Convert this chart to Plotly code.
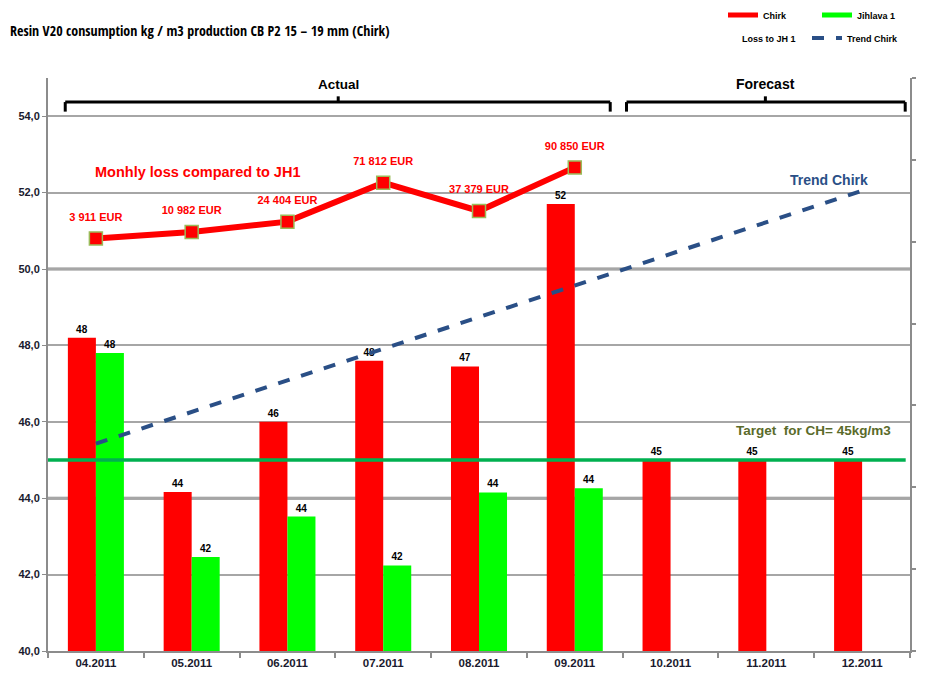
import plotly.graph_objects as go

months = ["04.2011", "05.2011", "06.2011", "07.2011", "08.2011", "09.2011", "10.2011", "11.2011", "12.2011"]
chirk = [48.2, 44.16, 46.0, 47.6, 47.45, 51.7, 45.0, 45.0, 45.0]
jihlava = [47.8, 42.46, 43.52, 42.24, 44.15, 44.26, None, None, None]
loss_months = ["04.2011", "05.2011", "06.2011", "07.2011", "08.2011", "09.2011"]
loss_pos = [50.8, 50.97, 51.24, 52.26, 51.52, 52.66]
loss_text = ["3 911 EUR", "10 982 EUR", "24 404 EUR", "71 812 EUR", "37 379 EUR", "90 850 EUR"]
trend_months = ["04.2011", "12.2011"]
trend_vals = [45.43, 52.05]
target = 45.0
emph_grid = [44, 50]

SANS = "Liberation Sans, Arial"
COND = "Open Sans Condensed, Roboto Condensed, Liberation Sans"
RED = "#ff0000"
GREEN = "#00ff00"
BLUE = "#2a4f86"
AXC = "#1a1a2e"

# page has an 8px body margin; figure size/margins compensate for it
W, H = 924, 671
PL, PR, PT, PB = 48, 910, 78, 651  # plot area in page pixels
PW, PH = PR - PL, PB - PT

fig = go.Figure()

fig.add_trace(go.Bar(x=months, y=chirk, name="Chirk", marker=dict(color=RED, line=dict(width=0)),
                     texttemplate="<b>%{y:.0f}</b>", textposition="outside",
                     textfont=dict(family=SANS, size=10, color="black"), cliponaxis=False, showlegend=False))
fig.add_trace(go.Bar(x=months, y=jihlava, name="Jihlava 1", marker=dict(color=GREEN, line=dict(width=0)),
                     texttemplate="<b>%{y:.0f}</b>", textposition="outside",
                     textfont=dict(family=SANS, size=10, color="black"), cliponaxis=False, showlegend=False))

fig.add_trace(go.Scatter(x=trend_months, y=trend_vals, mode="lines", name="Trend Chirk",
                         line=dict(color=BLUE, width=4, dash="dash"), showlegend=False))

fig.add_trace(go.Scatter(x=loss_months, y=loss_pos, mode="lines+markers", name="Loss to JH 1",
                         line=dict(color=RED, width=6),
                         marker=dict(symbol="square", size=13, color=RED, line=dict(color="#9bbb59", width=1.5)),
                         showlegend=False))
fig.add_trace(go.Scatter(x=loss_months, y=loss_pos, mode="markers+text", name="Loss labels",
                         marker=dict(size=22, opacity=0), text=["<b>%s</b>" % t for t in loss_text],
                         textposition="top center", hoverinfo="skip",
                         textfont=dict(family=SANS, size=11, color=RED), showlegend=False))

# legend entries
fig.add_trace(go.Scatter(x=[None], y=[None], mode="lines", name="<b>Chirk</b>", line=dict(color=RED, width=5), legend="legend"))
fig.add_trace(go.Scatter(x=[None], y=[None], mode="lines", name="<b>Jihlava 1</b>", line=dict(color=GREEN, width=5), legend="legend"))
fig.add_trace(go.Scatter(x=[None], y=[None], mode="lines", name="<b>Loss to JH 1</b>", line=dict(color="rgba(0,0,0,0)", width=5), legend="legend2"))
fig.add_trace(go.Scatter(x=[None], y=[None], mode="lines", name="<b>Trend Chirk</b>", line=dict(color=BLUE, width=4, dash="dash"), legend="legend2", yaxis="y2"))

shapes = []
for g in emph_grid:
    shapes.append(dict(type="line", xref="paper", x0=0, x1=1, yref="y", y0=g, y1=g,
                       line=dict(color="#8c8c8c", width=3), layer="below"))
shapes.append(dict(type="line", xref="paper", x0=0, x1=0.995, yref="y", y0=target, y1=target,
                   line=dict(color="#00b050", width=3.5), layer="above"))

def bracket(x0, x1, xc, y, h):
    return [
        dict(type="line", xref="x", yref="y", x0=x0, x1=x1, y0=y, y1=y, line=dict(color="black", width=3)),
        dict(type="line", xref="x", yref="y", x0=x0, x1=x0, y0=y, y1=y - h, line=dict(color="black", width=3)),
        dict(type="line", xref="x", yref="y", x0=x1, x1=x1, y0=y, y1=y - h, line=dict(color="black", width=3)),
        dict(type="line", xref="x", yref="y", x0=xc, x1=xc, y0=y, y1=y + h * 0.6, line=dict(color="black", width=3)),
    ]

shapes += bracket(-0.32, 5.37, 2.53, 54.37, 0.25)
shapes += bracket(5.54, 8.45, 6.99, 54.37, 0.25)

annotations = [
    dict(x=2.53, y=54.82, xref="x", yref="y", text="<b>Actual</b>", showarrow=False,
         font=dict(family=SANS, size=13.5, color="black")),
    dict(x=6.99, y=54.84, xref="x", yref="y", text="<b>Forecast</b>", showarrow=False,
         font=dict(family=SANS, size=14, color="black")),
    dict(x=1.06, y=52.53, xref="x", yref="y", text="<b>Monhly loss compared to JH1</b>", showarrow=False,
         font=dict(family=SANS, size=14.5, color=RED)),
    dict(x=7.65, y=52.32, xref="x", yref="y", text="<b>Trend Chirk</b>", showarrow=False,
         font=dict(family=SANS, size=14, color=BLUE)),
    dict(x=7.49, y=45.77, xref="x", yref="y", text="<b>Target  for CH= 45kg/m3</b>", showarrow=False,
         font=dict(family=SANS, size=13.5, color="#5a6b2a")),
]

fig.update_layout(
    width=W, height=H,
    margin=dict(l=PL - 8, r=(8 + W) - PR, t=PT - 8, b=(8 + H) - PB, autoexpand=False),
    paper_bgcolor="white", plot_bgcolor="white",
    separators=", ",
    barmode="group", bargap=0.415, bargroupgap=0,
    title=dict(text="Resin V20 consumption kg / m3 production CB P2 15 – 19 mm (Chirk)",
               x=2 / W, xanchor="left", y=1 - 23 / H, yanchor="middle",
               font=dict(family=COND, size=14, color="black")),
    font=dict(family=SANS, color="black"),
    xaxis=dict(type="category", categoryorder="array", categoryarray=months, range=[-0.5, 8.5],
               showline=True, linecolor="#8c8c8c", linewidth=2, ticks="outside", tickson="boundaries",
               ticklen=5, tickcolor="#8c8c8c", tickwidth=1.5, automargin=False,
               tickfont=dict(family=SANS, size=11.5, color=AXC, weight="bold"), showgrid=False),
    yaxis=dict(range=[40, 55], tick0=40, dtick=2, tickformat=".1f", showline=True, linecolor="#8c8c8c",
               linewidth=2, ticks="outside", ticklen=4, tickcolor="#8c8c8c", automargin=False,
               gridcolor="#a6a6a6", gridwidth=1.5, zeroline=False,
               tickfont=dict(family=SANS, size=11, color=AXC, weight="bold")),
    yaxis2=dict(range=[0, 7], dtick=1, overlaying="y", side="right", showticklabels=False,
                showline=True, linecolor="#8c8c8c", linewidth=2, ticks="outside", ticklen=4,
                tickcolor="#8c8c8c", tickwidth=1.5, showgrid=False, zeroline=False, automargin=False),
    legend=dict(orientation="h", x=(723 - PL) / PW, y=1 + (PT - 15) / PH, xanchor="left", yanchor="middle",
                entrywidth=49, font=dict(family=SANS, size=9, color="black"), bgcolor="rgba(0,0,0,0)",
                itemwidth=30, traceorder="normal"),
    legend2=dict(orientation="h", x=(702 - PL) / PW, y=1 + (PT - 38) / PH, xanchor="left", yanchor="middle",
                 entrywidth=60, font=dict(family=SANS, size=9, color="black"), bgcolor="rgba(0,0,0,0)",
                 itemwidth=30, traceorder="normal"),
    shapes=shapes,
    annotations=annotations,
)

fig.write_html("out.html")
